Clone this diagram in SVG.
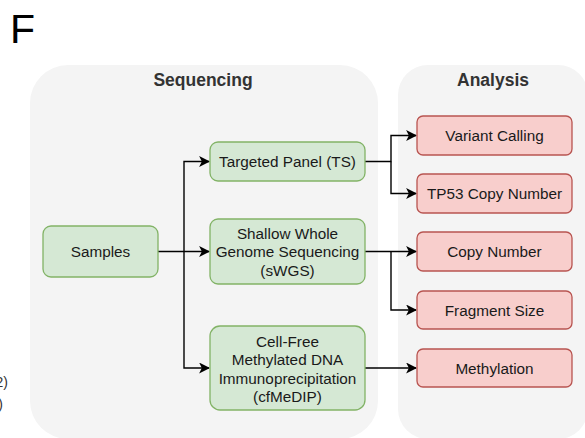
<svg xmlns="http://www.w3.org/2000/svg" width="585" height="438" viewBox="0 0 585 438">
<defs>
<style>
.cont{fill:#f4f4f4;stroke:none}
.title{font-family:"Liberation Sans",Arial,sans-serif;font-size:17.5px;font-weight:bold;fill:#333333;text-anchor:middle}
.g{fill:#d5e8d4;stroke:#82b366;stroke-width:1.3}
.r{fill:#f8cecc;stroke:#b85450;stroke-width:1.3}
.t{font-family:"Liberation Sans",Arial,sans-serif;font-size:15.3px;fill:#1a1a1a;text-anchor:middle}
.c{fill:none;stroke:#000;stroke-width:1.4}
</style>
<marker id="ah" viewBox="0 0 10 10" refX="9" refY="5" markerWidth="11" markerHeight="11" markerUnits="userSpaceOnUse" orient="auto">
<path d="M0,0 L10,5 L0,10 L2.5,5 Z" fill="#000"/>
</marker>
</defs>
<rect width="585" height="438" fill="#ffffff"/>
<text x="10" y="43" font-family="Liberation Sans,Arial,sans-serif" font-size="41" fill="#000">F</text>
<text x="8" y="387" font-family="Liberation Sans,Arial,sans-serif" font-size="14" fill="#333" text-anchor="end">2)</text>
<text x="3" y="409" font-family="Liberation Sans,Arial,sans-serif" font-size="14" fill="#333" text-anchor="end">)</text>
<g id="sequencing">
<rect class="cont" x="30" y="65" width="348" height="374" rx="38"/>
<text class="title" x="203" y="86">Sequencing</text>
</g>
<g id="analysis">
<rect class="cont" x="398" y="65" width="190" height="374" rx="30"/>
<text class="title" x="493" y="86">Analysis</text>
</g>
<g id="connectors">
<path class="c" d="M158,251.5 L209,251.5" marker-end="url(#ah)"/>
<path class="c" d="M184,251.5 L184,161.5 L209,161.5" marker-end="url(#ah)"/>
<path class="c" d="M184,251.5 L184,368 L209,368" marker-end="url(#ah)"/>
<path class="c" d="M365,161.5 L391,161.5 L391,135.5 L416,135.5" marker-end="url(#ah)"/>
<path class="c" d="M391,161.5 L391,193.5 L416,193.5" marker-end="url(#ah)"/>
<path class="c" d="M365,251.5 L416,251.5" marker-end="url(#ah)"/>
<path class="c" d="M391,251.5 L391,310 L416,310" marker-end="url(#ah)"/>
<path class="c" d="M365,368 L416,368" marker-end="url(#ah)"/>
</g>
<g id="samples">
<rect class="g" x="43" y="226" width="115" height="51" rx="8"/>
<text class="t" x="100.5" y="257">Samples</text>
</g>
<g id="ts">
<rect class="g" x="210" y="142" width="155" height="39" rx="8"/>
<text class="t" x="287.5" y="167">Targeted Panel (TS)</text>
</g>
<g id="swgs">
<rect class="g" x="210" y="219" width="155" height="65" rx="8"/>
<text class="t" x="287.5" y="238.5">Shallow Whole</text>
<text class="t" x="287.5" y="257">Genome Sequencing</text>
<text class="t" x="287.5" y="275.5">(sWGS)</text>
</g>
<g id="cfmedip">
<rect class="g" x="210" y="326" width="155" height="84" rx="10"/>
<text class="t" x="287.5" y="346.5">Cell-Free</text>
<text class="t" x="287.5" y="365">Methylated DNA</text>
<text class="t" x="287.5" y="383.5">Immunoprecipitation</text>
<text class="t" x="287.5" y="402">(cfMeDIP)</text>
</g>
<g id="variant">
<rect class="r" x="417" y="116" width="155" height="39" rx="6"/>
<text class="t" x="494.5" y="141">Variant Calling</text>
</g>
<g id="tp53">
<rect class="r" x="417" y="174" width="155" height="39" rx="6"/>
<text class="t" x="494.5" y="199">TP53 Copy Number</text>
</g>
<g id="copynumber">
<rect class="r" x="417" y="232" width="155" height="39" rx="6"/>
<text class="t" x="494.5" y="257">Copy Number</text>
</g>
<g id="fragment">
<rect class="r" x="417" y="291" width="155" height="38" rx="6"/>
<text class="t" x="494.5" y="315.5">Fragment Size</text>
</g>
<g id="methylation">
<rect class="r" x="417" y="349" width="155" height="38" rx="6"/>
<text class="t" x="494.5" y="373.5">Methylation</text>
</g>
</svg>
